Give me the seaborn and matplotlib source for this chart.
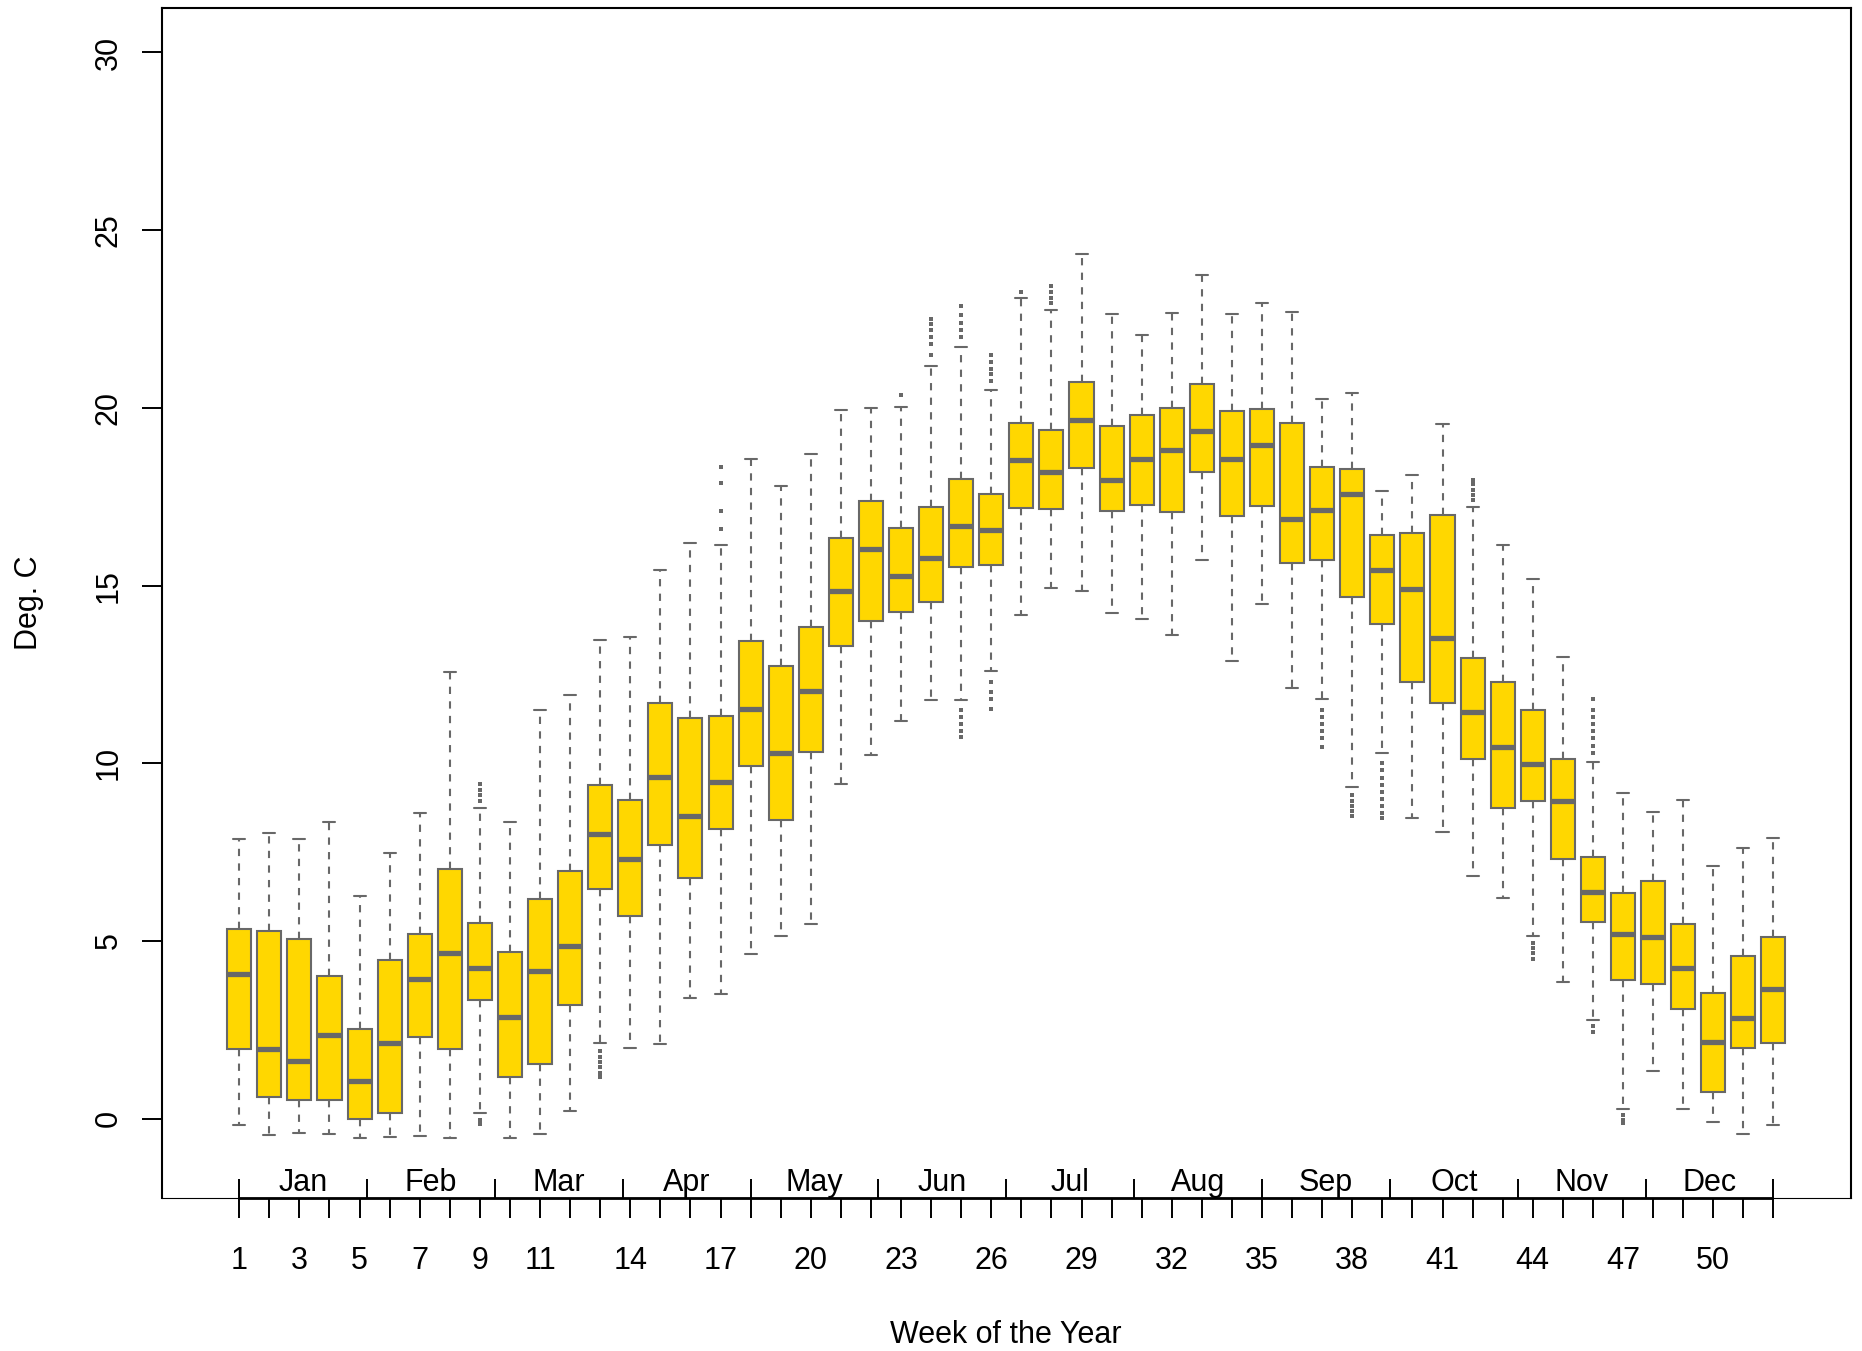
import matplotlib
matplotlib.use("Agg")
import matplotlib.pyplot as plt
import numpy as np
import pandas as pd
import seaborn as sns

# five-number summaries per week (deg C)
weeks = np.arange(1, 53)
whisker_low = [-0.18, -0.46, -0.40, -0.44, -0.53, -0.51, -0.48, -0.53, 0.17, -0.53, -0.44, 0.22, 2.12,
               2.00, 2.11, 3.39, 3.52, 4.63, 5.14, 5.49, 9.41, 10.23, 11.18, 11.78, 11.78, 12.61,
               14.16, 14.94, 14.85, 14.22, 14.07, 13.61, 15.71, 12.88, 14.48, 12.11, 11.80, 9.32, 10.28,
               8.46, 8.07, 6.83, 6.21, 5.15, 3.84, 2.79, 0.28, 1.34, 0.26, -0.08, -0.43, -0.18]
q1 = [1.96, 0.62, 0.54, 0.54, -0.02, 0.17, 2.31, 1.96, 3.34, 1.18, 1.53, 3.19, 6.45,
      5.70, 7.69, 6.77, 8.14, 9.91, 8.41, 10.32, 13.31, 13.99, 14.27, 14.54, 15.51, 15.58,
      17.18, 17.16, 18.30, 17.10, 17.26, 17.08, 18.19, 16.95, 17.23, 15.63, 15.71, 14.69, 13.93,
      12.28, 11.70, 10.12, 8.75, 8.95, 7.31, 5.54, 3.91, 3.78, 3.08, 0.76, 2.00, 2.13]
median = [4.06, 1.96, 1.61, 2.36, 1.07, 2.14, 3.93, 4.65, 4.24, 2.86, 4.16, 4.86, 8.02,
          7.31, 9.61, 8.51, 9.48, 11.53, 10.28, 12.04, 14.86, 16.02, 15.28, 15.77, 16.68, 16.57,
          18.54, 18.20, 19.65, 17.98, 18.55, 18.82, 19.36, 18.56, 18.96, 16.88, 17.12, 17.59, 15.45,
          14.91, 13.52, 11.43, 10.47, 9.97, 8.94, 6.39, 5.21, 5.10, 4.23, 2.15, 2.82, 3.65]
q3 = [5.34, 5.27, 5.06, 4.01, 2.52, 4.46, 5.21, 7.02, 5.51, 4.69, 6.19, 6.96, 9.38,
      8.96, 11.71, 11.28, 11.34, 13.45, 12.73, 13.84, 16.34, 17.38, 16.63, 17.21, 18.00, 17.58,
      19.57, 19.39, 20.73, 19.50, 19.79, 19.99, 20.66, 19.92, 19.98, 19.58, 18.33, 18.29, 16.43,
      16.47, 16.99, 12.96, 12.28, 11.49, 10.12, 7.37, 6.34, 6.70, 5.47, 3.54, 4.57, 5.12]
whisker_high = [7.88, 8.05, 7.88, 8.36, 6.28, 7.47, 8.61, 12.56, 8.74, 8.34, 11.51, 11.93, 13.48,
                13.54, 15.43, 16.19, 16.14, 18.56, 17.81, 18.70, 19.95, 20.01, 20.02, 21.19, 21.72, 20.50,
                23.09, 22.74, 24.33, 22.64, 22.06, 22.68, 23.74, 22.63, 22.95, 22.69, 20.25, 20.41, 17.66,
                18.11, 19.54, 17.20, 16.14, 15.18, 12.99, 10.05, 9.17, 8.63, 8.96, 7.12, 7.62, 7.89]

# outlying points beyond the whiskers
outlier_week = [9, 9, 9, 9, 9, 9,
                13, 13, 13, 13, 13, 13,
                17, 17, 17, 17,
                23,
                24, 24, 24, 24, 24, 24,
                25, 25, 25, 25, 25, 25, 25, 25, 25, 25,
                26, 26, 26, 26, 26, 26, 26, 26, 26,
                27,
                28, 28, 28, 28,
                37, 37, 37, 37, 37, 37,
                38, 38, 38, 38, 38,
                39, 39, 39, 39, 39, 39, 39, 39, 39,
                42, 42, 42, 42, 42,
                44, 44, 44, 44,
                46, 46, 46, 46, 46, 46, 46, 46, 46, 46,
                47, 47, 47]
outlier_temp = [8.95, 9.10, 9.25, 9.42, -0.05, -0.15,
                1.90, 1.75, 1.60, 1.45, 1.30, 1.18,
                16.60, 17.10, 17.90, 18.33,
                20.35,
                21.50, 21.80, 22.00, 22.20, 22.35, 22.49,
                22.00, 22.20, 22.40, 22.60, 22.86, 11.50, 11.30, 11.10, 10.90, 10.73,
                20.75, 20.95, 21.10, 21.30, 21.50, 12.30, 12.00, 11.80, 11.52,
                23.27,
                22.95, 23.10, 23.25, 23.43,
                11.50, 11.30, 11.10, 10.90, 10.70, 10.46,
                9.10, 8.95, 8.80, 8.65, 8.52,
                10.00, 9.80, 9.60, 9.40, 9.20, 9.00, 8.80, 8.60, 8.46,
                17.40, 17.55, 17.70, 17.85, 17.96,
                4.95, 4.80, 4.65, 4.50,
                10.30, 10.50, 10.70, 10.90, 11.10, 11.30, 11.50, 11.80, 2.60, 2.45,
                0.10, -0.05, -0.11]

months = ["Jan", "Feb", "Mar", "Apr", "May", "Jun", "Jul", "Aug", "Sep", "Oct", "Nov", "Dec"]
labelled_weeks = [1, 3, 5, 7, 9, 11, 14, 17, 20, 23, 26, 29, 32, 35, 38, 41, 44, 47, 50]

box_fill = "#FFD700"
box_line = "#686868"

sns.set_theme(style="white")
plt.rcParams["font.family"] = ["Liberation Sans", "DejaVu Sans"]
plt.rcParams["text.color"] = "black"
plt.rcParams["xtick.color"] = "black"
plt.rcParams["ytick.color"] = "black"
plt.rcParams["axes.labelcolor"] = "black"

# with 5 values per week, the quartiles fall exactly on q1 / q3
summary = np.column_stack([whisker_low, q1, median, q3, whisker_high])
df = pd.DataFrame({"week": np.repeat(weeks, 5), "temp": summary.ravel()})

fig = plt.figure(figsize=(18.62, 13.51), dpi=100)
ax = fig.add_axes([0.0868, 0.1130, 0.9073, 0.8808])

sns.boxplot(
    data=df, x="week", y="temp", orient="x", native_scale=True, ax=ax,
    whis=(0, 100), showfliers=False, width=0.8, saturation=1,
    color=box_fill, linecolor=box_line, linewidth=1.5,
    medianprops=dict(linewidth=3.8, solid_capstyle="butt"),
    whiskerprops=dict(linestyle=(0, (3.5, 3.5))),
)
sns.scatterplot(x=outlier_week, y=outlier_temp, marker="s", s=7, color=box_line,
                linewidth=0, ax=ax, legend=False)

ax.set_xlim(-1.58, 54.58)
ax.set_ylim(-2.24, 31.24)

# y axis
ax.set_yticks(np.arange(0, 31, 5))
ax.tick_params(axis="y", direction="out", length=14.4, width=1.4, pad=13,
               labelsize=22, left=True, color="black", labelcolor="black")
for lab in ax.get_yticklabels():
    lab.set_rotation(90)
    lab.set_va("center")

# week axis
ax.set_xticks(weeks)
ax.set_xticklabels([str(w) if w in labelled_weeks else "" for w in weeks])
ax.tick_params(axis="x", direction="out", length=14.4, width=1.4, pad=20,
               labelsize=22, bottom=True, color="black", labelcolor="black")
ax.set_xlabel("")
ax.set_ylabel("")
xt = ax.get_xaxis_transform()
ax.hlines(0, weeks[0], weeks[-1], transform=xt, color="black", lw=2.0, clip_on=False)

# month separators and names inside the frame
month_edges = np.linspace(weeks[0], weeks[-1], len(months) + 1)
ax.vlines(month_edges, 0, 0.016, transform=xt, color="black", lw=1.4, clip_on=False)
for name, a, b in zip(months, month_edges[:-1], month_edges[1:]):
    ax.text((a + b) / 2, 0.0061, name, transform=xt, ha="center", va="baseline",
            fontsize=22, color="black")

for side in ["top", "left", "right"]:
    ax.spines[side].set_color("black")
    ax.spines[side].set_linewidth(1.5)
ax.spines["bottom"].set_color("black")
ax.spines["bottom"].set_linewidth(0.8)

fig.text(0.0155, 0.5537, "Deg. C", rotation=90, ha="center", va="center", fontsize=22, color="black")
fig.text(0.5403, 0.0115, "Week of the Year", ha="center", va="center", fontsize=22, color="black")

fig.savefig("out.png", dpi=100)
